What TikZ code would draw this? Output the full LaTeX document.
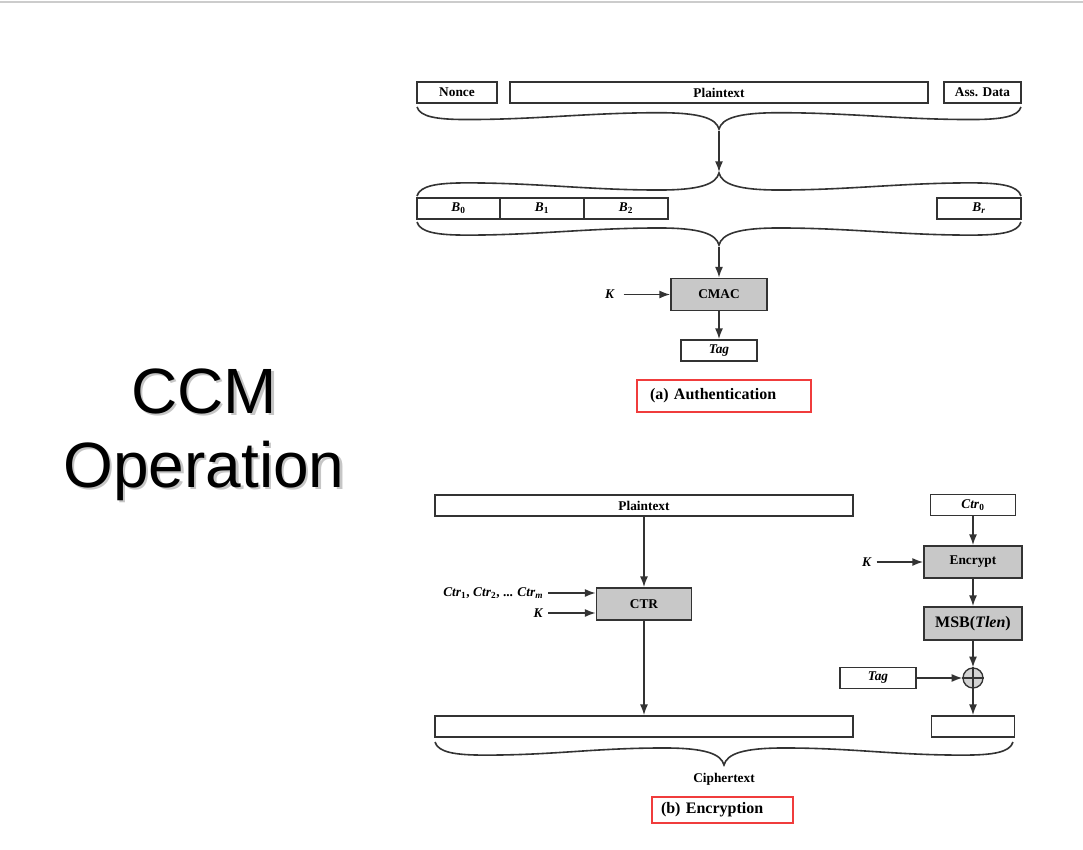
\documentclass[tikz,border=0pt]{standalone}
\usepackage{fontspec}
\setmainfont{Liberation Serif}
\newfontfamily\titlefont{Liberation Sans}
\usetikzlibrary{shapes,arrows.meta}
\definecolor{boxgray}{HTML}{C8C8C8}
\definecolor{edgegray}{HTML}{333333}
\definecolor{markred}{HTML}{F03C3C}
% #1 left x, #2 right x, #3 y of the ends, #4 depth (negative: tip points up)
\newcommand{\curlybrace}[4]{%
\draw[bracestyle] (#1,#3)
  .. controls ({#1+3},{#3+0.45*(#4)}) and ({#1+20},{#3+0.57*(#4)}) .. ({#1+50},{#3+0.57*(#4)})
  .. controls ({#1+120},{#3+0.57*(#4)}) and ({(#1+#2)/2-130},{#3+0.26*(#4)}) .. ({(#1+#2)/2-60},{#3+0.26*(#4)})
  .. controls ({(#1+#2)/2-20},{#3+0.26*(#4)}) and ({(#1+#2)/2-3},{#3+0.5*(#4)}) .. ({(#1+#2)/2},{#3+#4})
  .. controls ({(#1+#2)/2+3},{#3+0.5*(#4)}) and ({(#1+#2)/2+20},{#3+0.26*(#4)}) .. ({(#1+#2)/2+60},{#3+0.26*(#4)})
  .. controls ({(#1+#2)/2+130},{#3+0.26*(#4)}) and ({#2-120},{#3+0.57*(#4)}) .. ({#2-50},{#3+0.57*(#4)})
  .. controls ({#2-20},{#3+0.57*(#4)}) and ({#2-3},{#3+0.45*(#4)}) .. (#2,#3);}

\begin{document}
\begin{tikzpicture}[x=0.75pt, y=-0.75pt, font=\bfseries\fontsize{10}{12}\selectfont]
\tikzstyle{blockr}=[rectangle, draw=edgegray, line width=1.4pt, minimum height=15.75pt, inner sep=0pt]
\tikzstyle{blockg}=[blockr, fill=boxgray, minimum height=24pt]
\tikzstyle{drawstyle}=[line width=1.1pt, draw=edgegray, -{Latex[length=8pt,width=6pt]}]
\tikzstyle{bracestyle}=[line width=1.2pt, draw=edgegray]
\tikzstyle{caption}=[draw=markred, line width=1.5pt, font=\bfseries\fontsize{12}{14}\selectfont, inner ysep=0pt, align=left]
\tikzstyle{titletext}=[anchor=base, font=\titlefont\mdseries\fontsize{48}{56}\selectfont]

\useasboundingbox (0,0) rectangle (1083,850);
\draw[gray!40, line width=1.2pt] (0,2) -- (1083,2);

% title
\node[titletext, text=gray!45] (ccmshadow) at (206.5,415.5) {CCM};
\node[titletext] (ccm) at (204,413) {CCM};
\node[titletext, text=gray!45] (opshadow) at (206.5,489.5) {Operation};
\node[titletext] (op) at (204,487) {Operation};

% (a) authentication
\node[blockr, minimum width=60pt] (nonce) at (457,92.5) {Nonce};
\node[blockr, minimum width=313.5pt] (ptop) at (719,92.5) {Plaintext};
\node[blockr, minimum width=57.75pt] (assd) at (982.5,92.5) {Ass. Data};
\curlybrace{417}{1021}{107}{22}
\coordinate (tipA) at (719,131);
\coordinate (tipB) at (719,172);
\draw[drawstyle] (tipA) -- (tipB);

\node[blockr, minimum width=62.25pt] (B0) at (458.5,208.5) {\textit{B}\textsubscript{0}};
\node[blockr, minimum width=63pt] (B1) at (542,208.5) {\textit{B}\textsubscript{1}};
\node[blockr, minimum width=63pt] (B2) at (626,208.5) {\textit{B}\textsubscript{2}};
\node[blockr, minimum width=63pt] (Br) at (979,208.5) {\textit{B}\textsubscript{\textit{r}}};
\curlybrace{417}{1021}{196}{-23}
\curlybrace{417}{1021}{222}{23}
\coordinate (tipC) at (719,247);

\node[blockg, minimum width=72pt] (cmac) at (719,294.5) {CMAC};
\node (kcmac) at (610,294.5) {\textit{K}};
\node[blockr, minimum width=57pt] (tag) at (719,350.5) {\textit{Tag}};
\draw[drawstyle] (tipC) -- (cmac);
\draw[drawstyle] ([xshift=3pt]kcmac.east) -- (cmac);
\draw[drawstyle] (cmac) -- (tag);
\node[caption, text width=111pt, inner xsep=9.75pt, minimum height=24pt] (authcap) at (724,396) {(a) Authentication};

% (b) encryption
\node[blockr, minimum width=313.5pt] (pbot) at (644,505.5) {Plaintext};
\node[blockg, minimum width=71.25pt] (ctr) at (644,604) {CTR};
\node[anchor=east] (ctrs) at (548,593) {\textit{Ctr}\textsubscript{1}, \textit{Ctr}\textsubscript{2}, ... \textit{Ctr}\textsubscript{\textit{m}}};
\node[anchor=east] (kctr) at (548,613) {\textit{K}};
\node[blockr, minimum width=313.5pt] (cleft) at (644,726.5) {};
\draw[drawstyle] (pbot) -- (ctr);
\draw[drawstyle] (ctrs.east) -- (ctrs.east -| ctr.west);
\draw[drawstyle] (kctr.east) -- (kctr.east -| ctr.west);
\draw[drawstyle] (ctr) -- (cleft);

\node[blockr, minimum width=63.75pt] (ctrzero) at (973,505) {\textit{Ctr}\textsubscript{0}};
\node[blockg, minimum width=73.5pt] (enc) at (973,562) {Encrypt};
\node (kenc) at (867,562) {\textit{K}};
\node[blockg, minimum width=73.5pt, minimum height=24.75pt, font=\bfseries\fontsize{12}{14}\selectfont] (msb) at (973,623.5) {MSB(\textit{Tlen})};
\node[circle, draw=edgegray, line width=1pt, fill=boxgray!80, minimum size=15pt, inner sep=0pt] (xor) at (973,678) {};
\draw[line width=0.8pt, edgegray] (xor.north) -- (xor.south) (xor.west) -- (xor.east);
\node[blockr, minimum width=57pt] (tagb) at (878,678) {\textit{Tag}};
\node[blockr, minimum width=62.25pt] (cright) at (973,726.5) {};
\draw[drawstyle] (ctrzero) -- (enc);
\draw[drawstyle] (kenc) -- (enc);
\draw[drawstyle] (enc) -- (msb);
\draw[drawstyle] (msb) -- (xor);
\draw[drawstyle] (tagb) -- (xor);
\draw[drawstyle] (xor) -- (cright);

\curlybrace{435}{1013}{742}{23}
\node (ciph) at (724,779) {Ciphertext};
\node[caption, text width=92.25pt, inner xsep=6.75pt, minimum height=19.5pt] (encap) at (722.5,810) {(b) Encryption};
\end{tikzpicture}
\end{document}
